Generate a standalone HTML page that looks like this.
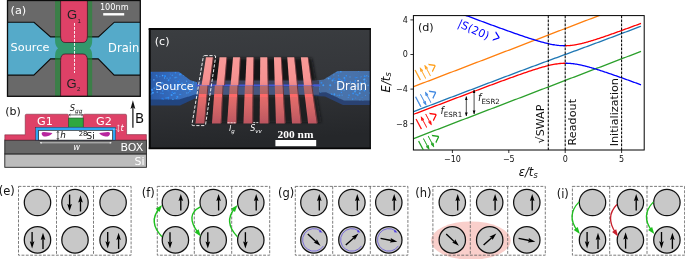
<!DOCTYPE html>
<html><head><meta charset="utf-8"><title>figure</title>
<style>html,body{margin:0;padding:0;background:#fff;overflow:hidden}svg{display:block}text{font-family:"DejaVu Sans","Liberation Sans",sans-serif}.i{font-style:italic}.w{fill:#fff}.sr{font-family:"Liberation Serif","DejaVu Serif",serif;font-weight:bold}.lib{font-family:"Liberation Sans",sans-serif}</style></head><body>
<svg width="685" height="259" viewBox="0 0 685 259">
<defs>
<marker id="ah" viewBox="0 0 10 10" refX="9" refY="5" markerWidth="5.6" markerHeight="5.6" orient="auto-start-reverse"><path d="M0,1.5 L10,5 L0,8.5 z" fill="#000"/></marker>
<filter id="blur3" x="-20%" y="-20%" width="140%" height="140%"><feGaussianBlur stdDeviation="0.35"/></filter>
</defs>
<rect width="685" height="259" fill="#fff"/>
<g id="pa">
<clipPath id="ca"><rect x="7.5" y="0.5" width="132.8" height="95.8"/></clipPath>
<rect x="7.5" y="0.5" width="132.8" height="95.8" fill="#696969"/>
<g clip-path="url(#ca)">
<polygon points="5.5,22.2 34,22.2 50.6,36.9 98.4,36.9 114.3,22.2 142.3,22.2 142.3,75.1 114.2,75.1 98.2,58.8 50.6,58.8 33.8,75.1 5.5,75.1" fill="#55aac9" stroke="#0c0c0c" stroke-width="1.15" stroke-linejoin="miter"/>
<path d="M55.05,-2 L55.05,40.5 Q55.05,46.2 58.15,48.2 Q55.05,50.2 55.05,56 L55.05,100 L92.2,100 L92.2,56 Q92.2,50.2 89.60000000000001,48.2 Q92.2,46.2 92.2,40.5 L92.2,-2 Z" fill="rgb(30,140,52)" fill-opacity="0.62"/>
<path d="M60.6,-2 L60.6,36.0 Q60.6,42.5 65.1,42.5 L82.9,42.5 Q87.4,42.5 87.4,36.0 L87.4,-2 Z" fill="#de4167" stroke="#3a1020" stroke-width="0.7"/>
<path d="M60.6,100 L60.6,60.5 Q60.6,54.0 65.1,54.0 L82.9,54.0 Q87.4,54.0 87.4,60.5 L87.4,100 Z" fill="#de4167" stroke="#3a1020" stroke-width="0.7"/>
<line x1="74.5" y1="23" x2="74.5" y2="73" stroke="#fff" stroke-width="0.9" stroke-dasharray="2.8,1.2"/>
</g>
<rect x="7.5" y="0.5" width="132.8" height="95.8" fill="none" stroke="#0c0c0c" stroke-width="1.3"/>
<text x="10.5" y="13.7" font-size="11.3" class="w">(a)</text>
<text x="10.6" y="50.9" font-size="11.3" class="w">Source</text>
<text x="108.1" y="52" font-size="11.5" class="w">Drain</text>
<text x="67.1" y="19.1" font-size="13" fill="#222" class="lib">G<tspan font-size="6" dy="3.5" dx="0.3">1</tspan></text>
<text x="66.6" y="87.8" font-size="13" fill="#222" class="lib">G<tspan font-size="6" dy="3.5" dx="0.3">2</tspan></text>
<text x="99.9" y="10.1" font-size="8.2" class="w">100nm</text>
<rect x="103.2" y="13.1" width="21" height="2.4" fill="#fff"/>
</g>
<g id="pb">
<text x="5.2" y="114.6" font-size="11" fill="#111">(b)</text>
<rect x="4.8" y="153.9" width="141.6" height="13.4" fill="#bcbcbc" stroke="#222" stroke-width="0.9"/>
<rect x="4.8" y="140.1" width="141.6" height="13.8" fill="#676767" stroke="#222" stroke-width="0.9"/>
<path d="M4.8,140 L4.8,134.8 L25.2,134.8 L25.2,115.6 Q25.2,114.2 26.6,114.2 L67.2,114.2 Q68.6,114.2 68.6,115.6 L68.6,140 Z" fill="#de4167" stroke="#6a2034" stroke-width="0.5"/>
<path d="M146.4,140 L146.4,134.6 L126.6,134.6 L126.6,115.6 Q126.6,114.2 125.2,114.2 L84.5,114.2 Q83.1,114.2 83.1,115.6 L83.1,140 Z" fill="#de4167" stroke="#6a2034" stroke-width="0.5"/>
<rect x="68.7" y="118" width="14.5" height="9.2" fill="#2fa83f" stroke="#1c4a24" stroke-width="0.6"/>
<rect x="35.6" y="127.2" width="80" height="12.9" fill="#2ea6f2" stroke="#223" stroke-width="0.4"/>
<rect x="38.7" y="130.3" width="73.9" height="9.8" fill="#fff" stroke="#111" stroke-width="0.6"/>
<path d="M41.6,133.4 Q41.8,131.9 44,132.0 L52.4,132.9 Q50.8,135.4 46,136.5 Q41.9,136.8 41.6,133.4 Z" fill="#b8269f" filter="url(#blur3)"/>
<path d="M110.0,133.4 Q109.8,131.9 107.6,132.0 L99.2,132.9 Q100.8,135.4 105.6,136.5 Q109.7,136.8 110.0,133.4 Z" fill="#b8269f" filter="url(#blur3)"/>
<line x1="57.9" y1="131.4" x2="57.9" y2="139.4" stroke="#111" stroke-width="0.7"/>
<path d="M56.8,132.8 L57.9,131.2 L59,132.8 M56.8,138 L57.9,139.6 L59,138" fill="none" stroke="#111" stroke-width="0.6"/>
<text x="60.3" y="138.0" font-size="8.8" class="i" fill="#111">h</text>
<text x="78.8" y="135.7" font-size="6.8" fill="#111">28</text>
<text x="86.3" y="138.6" font-size="9.4" fill="#111">Si</text>
<text x="69.8" y="110.8" font-size="8.3" class="i" fill="#111">S<tspan font-size="5.8" dy="1.8">gg</tspan></text>
<line x1="69" y1="114.9" x2="82.8" y2="114.9" stroke="#111" stroke-width="0.6"/>
<path d="M70.6,113.9 L69,114.9 L70.6,115.9 M81.2,113.9 L82.8,114.9 L81.2,115.9" fill="none" stroke="#111" stroke-width="0.5"/>
<text x="37" y="124.8" font-size="11.2" class="w">G1</text>
<text x="96" y="124.8" font-size="11.2" class="w">G2</text>
<line x1="118.4" y1="125" x2="118.4" y2="131.6" stroke="#fff" stroke-width="0.6"/>
<path d="M117.4,126.2 L118.4,124.8 L119.4,126.2 M117.4,130.4 L118.4,131.8 L119.4,130.4" fill="none" stroke="#fff" stroke-width="0.5"/>
<line x1="113" y1="129.4" x2="118" y2="129.4" stroke="#fff" stroke-width="0.5" stroke-dasharray="0.8,0.8"/>
<text x="120.4" y="131.4" font-size="8.5" class="i w">t</text>
<line x1="40" y1="142.8" x2="111.4" y2="142.8" stroke="#fff" stroke-width="0.6"/>
<path d="M41.6,141.9 L39.8,142.8 L41.6,143.7 Z M109.8,141.9 L111.6,142.8 L109.8,143.7 Z" fill="#fff"/>
<text x="73.2" y="150" font-size="8.4" class="i w">w</text>
<text x="120.4" y="151.3" font-size="11" class="w">BOX</text>
<text x="134.6" y="164.6" font-size="11" class="w">Si</text>
<line x1="132.9" y1="127.7" x2="132.9" y2="106" stroke="#111" stroke-width="1.2"/>
<path d="M132.9,100.2 L130.5,108.9 L132.9,107.3 L135.3,108.9 Z" fill="#111"/>
<text x="135.0" y="122.8" font-size="13.3" fill="#111">B</text>
</g>
<g id="pc">
<defs>
<linearGradient id="cbg" x1="0" y1="0" x2="0.15" y2="1"><stop offset="0" stop-color="#3b3e41"/><stop offset="0.45" stop-color="#35373b"/><stop offset="1" stop-color="#25272a"/></linearGradient>
<linearGradient id="bar" gradientUnits="userSpaceOnUse" x1="0" y1="57.2" x2="0" y2="123.6"><stop offset="0.0000" stop-color="#f89a98"/><stop offset="0.3434" stop-color="#f59190"/><stop offset="0.4127" stop-color="#ee8888"/><stop offset="0.4172" stop-color="#b87aa0"/><stop offset="0.4352" stop-color="#b072a0"/><stop offset="0.4413" stop-color="#b86a6a"/><stop offset="0.5572" stop-color="#b46464"/><stop offset="0.5617" stop-color="#ff6767"/><stop offset="0.5934" stop-color="#fb6a6a"/><stop offset="0.6024" stop-color="#e56b6b"/><stop offset="0.7952" stop-color="#d06466"/><stop offset="1.0000" stop-color="#bb5560"/></linearGradient>
<linearGradient id="srcg" x1="0" y1="0" x2="1" y2="0"><stop offset="0" stop-color="#2a58a4"/><stop offset="0.5" stop-color="#356cbe"/><stop offset="1" stop-color="#3f72ba"/></linearGradient>
<linearGradient id="drng" x1="0" y1="0" x2="1" y2="0"><stop offset="0" stop-color="#4a6b9c"/><stop offset="0.5" stop-color="#4973ab"/><stop offset="1" stop-color="#4670a8"/></linearGradient>
<filter id="blur1" x="-20%" y="-20%" width="140%" height="140%"><feGaussianBlur stdDeviation="1.4"/></filter>
<filter id="blur2" x="-20%" y="-20%" width="140%" height="140%"><feGaussianBlur stdDeviation="0.45"/></filter>
<clipPath id="cc"><rect x="149.3" y="28.6" width="221.0" height="120.1"/></clipPath>
<clipPath id="csrc"><path d="M147,71.8 L178.8,71.8 L190.4,80.2 L198,82.6 L198,93.6 L179,99.4 L147,99.4 Z"/></clipPath><clipPath id="cdrn"><path d="M372,70.9 L337.6,70.9 L323.8,79.6 L314,81 L314,92.4 L326,92.3 L344,100.6 L372,100.6 Z"/></clipPath>
</defs>
<rect x="149.3" y="28.6" width="221.0" height="120.1" fill="url(#cbg)"/>
<g clip-path="url(#cc)">
<g filter="url(#blur2)">
<path d="M147,99 L179,99 L198,93 L198,97 L180,105.6 L147,105.6 Z" fill="#22447f"/>
<path d="M372,100 L344,100 L326,92 L314,92 L314,96 L325,96.5 L343,104.9 L372,104.9 Z" fill="#2a4372"/>
<path d="M147,71.8 L178.8,71.8 L190.4,80.2 L198,82.6 L198,93.6 L179,99.4 L147,99.4 Z" fill="url(#srcg)"/>
<path d="M372,70.9 L337.6,70.9 L323.8,79.6 L314,81 L314,92.4 L326,92.3 L344,100.6 L372,100.6 Z" fill="url(#drng)"/>
</g>
<g clip-path="url(#csrc)">
<circle cx="165.2" cy="76.2" r="0.86" fill="#2f94ff" opacity="0.88"/>
<circle cx="154.4" cy="88.3" r="1.00" fill="#4aa6ff" opacity="0.56"/>
<circle cx="170.4" cy="74.0" r="0.55" fill="#3c9cff" opacity="0.57"/>
<circle cx="176.6" cy="98.5" r="0.85" fill="#2f94ff" opacity="0.78"/>
<circle cx="168.6" cy="99.3" r="0.53" fill="#4aa6ff" opacity="0.67"/>
<circle cx="156.8" cy="75.3" r="0.67" fill="#4aa6ff" opacity="0.59"/>
<circle cx="176.8" cy="77.3" r="0.55" fill="#2f94ff" opacity="0.78"/>
<circle cx="179.1" cy="85.9" r="0.79" fill="#1e86ff" opacity="0.74"/>
<circle cx="193.4" cy="82.1" r="0.64" fill="#4aa6ff" opacity="0.83"/>
<circle cx="161.5" cy="88.1" r="0.79" fill="#1e86ff" opacity="0.84"/>
<circle cx="163.5" cy="99.4" r="0.56" fill="#3c9cff" opacity="0.62"/>
<circle cx="166.1" cy="98.1" r="0.73" fill="#2f94ff" opacity="0.86"/>
<circle cx="176.9" cy="96.5" r="0.67" fill="#1e86ff" opacity="0.79"/>
<circle cx="177.3" cy="84.8" r="0.96" fill="#1e86ff" opacity="0.74"/>
<circle cx="181.2" cy="73.7" r="0.89" fill="#3c9cff" opacity="0.66"/>
<circle cx="168.1" cy="90.7" r="0.51" fill="#3c9cff" opacity="0.69"/>
<circle cx="178.7" cy="85.8" r="0.62" fill="#1e86ff" opacity="0.60"/>
<circle cx="161.6" cy="82.9" r="0.98" fill="#2f94ff" opacity="0.62"/>
<circle cx="168.9" cy="79.8" r="0.58" fill="#3c9cff" opacity="0.90"/>
<circle cx="163.1" cy="83.6" r="0.70" fill="#3c9cff" opacity="0.93"/>
<circle cx="157.1" cy="76.9" r="0.63" fill="#4aa6ff" opacity="0.55"/>
<circle cx="189.1" cy="77.1" r="0.66" fill="#4aa6ff" opacity="0.72"/>
<circle cx="167.4" cy="87.9" r="1.02" fill="#2f94ff" opacity="0.73"/>
<circle cx="190.9" cy="98.7" r="0.87" fill="#3c9cff" opacity="0.71"/>
<circle cx="168.5" cy="85.5" r="0.72" fill="#4aa6ff" opacity="0.58"/>
<circle cx="159.8" cy="76.5" r="0.69" fill="#2f94ff" opacity="0.59"/>
<circle cx="176.6" cy="87.0" r="1.02" fill="#2f94ff" opacity="0.58"/>
<circle cx="159.8" cy="82.5" r="0.85" fill="#1e86ff" opacity="0.79"/>
<circle cx="172.3" cy="75.2" r="0.77" fill="#3c9cff" opacity="0.74"/>
<circle cx="164.7" cy="76.0" r="0.91" fill="#1e86ff" opacity="0.74"/>
<circle cx="182.5" cy="86.5" r="0.61" fill="#1e86ff" opacity="0.61"/>
<circle cx="175.5" cy="72.8" r="0.79" fill="#2f94ff" opacity="0.83"/>
<circle cx="162.3" cy="82.3" r="0.59" fill="#4aa6ff" opacity="0.76"/>
<circle cx="186.6" cy="81.2" r="0.62" fill="#4aa6ff" opacity="0.87"/>
<circle cx="188.5" cy="92.7" r="0.62" fill="#3c9cff" opacity="0.69"/>
<circle cx="151.4" cy="72.8" r="0.65" fill="#1e86ff" opacity="0.63"/>
<circle cx="178.4" cy="81.6" r="0.94" fill="#1e86ff" opacity="0.93"/>
<circle cx="167.1" cy="78.2" r="0.62" fill="#4aa6ff" opacity="0.69"/>
<circle cx="172.7" cy="99.6" r="0.84" fill="#2f94ff" opacity="0.74"/>
<circle cx="180.7" cy="94.4" r="0.55" fill="#2f94ff" opacity="0.91"/>
<circle cx="186.8" cy="93.0" r="0.76" fill="#4aa6ff" opacity="0.72"/>
<circle cx="179.9" cy="74.4" r="1.02" fill="#3c9cff" opacity="0.74"/>
<circle cx="184.9" cy="74.4" r="0.59" fill="#4aa6ff" opacity="0.56"/>
<circle cx="177.8" cy="85.0" r="0.86" fill="#3c9cff" opacity="0.81"/>
<circle cx="166.5" cy="87.4" r="0.57" fill="#2f94ff" opacity="0.87"/>
<circle cx="184.1" cy="74.9" r="0.91" fill="#4aa6ff" opacity="0.72"/>
<circle cx="191.0" cy="95.1" r="0.62" fill="#1e86ff" opacity="0.64"/>
<circle cx="173.6" cy="93.4" r="0.68" fill="#3c9cff" opacity="0.88"/>
<circle cx="152.9" cy="92.7" r="0.99" fill="#3c9cff" opacity="0.88"/>
<circle cx="191.3" cy="75.7" r="0.58" fill="#2f94ff" opacity="0.90"/>
<circle cx="186.5" cy="89.0" r="0.93" fill="#4aa6ff" opacity="0.62"/>
<circle cx="172.3" cy="92.3" r="0.81" fill="#1e86ff" opacity="0.82"/>
<circle cx="174.9" cy="85.5" r="0.93" fill="#2f94ff" opacity="0.65"/>
<circle cx="163.0" cy="93.6" r="0.78" fill="#2f94ff" opacity="0.85"/>
<circle cx="192.9" cy="84.4" r="0.84" fill="#4aa6ff" opacity="0.83"/>
<circle cx="171.3" cy="86.9" r="0.76" fill="#4aa6ff" opacity="0.83"/>
<circle cx="191.2" cy="98.4" r="0.64" fill="#4aa6ff" opacity="0.89"/>
<circle cx="156.4" cy="75.4" r="0.74" fill="#2f94ff" opacity="0.82"/>
<circle cx="170.1" cy="78.0" r="0.67" fill="#2f94ff" opacity="0.91"/>
<circle cx="157.3" cy="92.1" r="0.86" fill="#4aa6ff" opacity="0.65"/>
<circle cx="156.5" cy="85.1" r="0.91" fill="#2f94ff" opacity="0.71"/>
<circle cx="172.9" cy="99.7" r="0.96" fill="#4aa6ff" opacity="0.83"/>
<circle cx="196.7" cy="83.3" r="0.73" fill="#1e86ff" opacity="0.68"/>
<circle cx="183.9" cy="72.5" r="0.80" fill="#3c9cff" opacity="0.83"/>
<circle cx="168.1" cy="86.5" r="0.66" fill="#2f94ff" opacity="0.60"/>
<circle cx="193.2" cy="78.4" r="0.98" fill="#2f94ff" opacity="0.66"/>
<circle cx="151.9" cy="93.8" r="0.65" fill="#4aa6ff" opacity="0.88"/>
<circle cx="189.9" cy="90.9" r="1.02" fill="#3c9cff" opacity="0.61"/>
<circle cx="193.2" cy="88.0" r="0.89" fill="#2f94ff" opacity="0.66"/>
<circle cx="187.6" cy="77.1" r="0.99" fill="#1e86ff" opacity="0.93"/>
<circle cx="179.8" cy="94.4" r="0.55" fill="#4aa6ff" opacity="0.58"/>
<circle cx="190.6" cy="84.7" r="0.69" fill="#3c9cff" opacity="0.92"/>
<circle cx="162.6" cy="75.6" r="0.79" fill="#4aa6ff" opacity="0.93"/>
<circle cx="195.6" cy="79.3" r="0.60" fill="#1e86ff" opacity="0.80"/>
<circle cx="175.0" cy="77.8" r="0.75" fill="#4aa6ff" opacity="0.66"/>
<circle cx="187.8" cy="99.8" r="0.52" fill="#2f94ff" opacity="0.84"/>
<circle cx="175.9" cy="77.3" r="0.76" fill="#3c9cff" opacity="0.59"/>
<circle cx="188.5" cy="84.1" r="0.77" fill="#3c9cff" opacity="0.94"/>
<circle cx="164.5" cy="78.0" r="0.63" fill="#4aa6ff" opacity="0.88"/>
<circle cx="183.2" cy="89.8" r="0.72" fill="#1e86ff" opacity="0.94"/>
<circle cx="189.3" cy="72.4" r="0.84" fill="#1e86ff" opacity="0.72"/>
<circle cx="152.6" cy="90.6" r="0.71" fill="#1e86ff" opacity="0.79"/>
<circle cx="182.6" cy="73.3" r="0.60" fill="#1e86ff" opacity="0.73"/>
<circle cx="162.4" cy="98.9" r="1.03" fill="#1e86ff" opacity="0.65"/>
<circle cx="195.4" cy="80.7" r="0.70" fill="#2f94ff" opacity="0.68"/>
<circle cx="153.9" cy="79.8" r="0.86" fill="#4aa6ff" opacity="0.75"/>
<circle cx="150.2" cy="79.4" r="0.55" fill="#3c9cff" opacity="0.78"/>
<circle cx="168.5" cy="80.4" r="0.85" fill="#2f94ff" opacity="0.78"/>
<circle cx="174.9" cy="93.0" r="0.86" fill="#3c9cff" opacity="0.86"/>
<circle cx="183.9" cy="85.8" r="0.66" fill="#4aa6ff" opacity="0.57"/>
<circle cx="189.3" cy="97.0" r="0.85" fill="#4aa6ff" opacity="0.91"/>
<circle cx="185.4" cy="87.9" r="0.95" fill="#2f94ff" opacity="0.88"/>
<circle cx="177.5" cy="97.0" r="0.88" fill="#4aa6ff" opacity="0.58"/>
<circle cx="152.0" cy="89.8" r="1.03" fill="#3c9cff" opacity="0.88"/>
<circle cx="176.3" cy="89.6" r="0.84" fill="#4aa6ff" opacity="0.75"/>
<circle cx="150.2" cy="94.3" r="0.91" fill="#2f94ff" opacity="0.81"/>
<circle cx="153.1" cy="92.6" r="0.64" fill="#2f94ff" opacity="0.89"/>
<circle cx="161.0" cy="93.2" r="0.63" fill="#3c9cff" opacity="0.75"/>
<circle cx="168.0" cy="85.4" r="0.88" fill="#2f94ff" opacity="0.80"/>
<circle cx="180.2" cy="74.2" r="0.58" fill="#1e86ff" opacity="0.81"/>
<circle cx="182.6" cy="89.4" r="0.57" fill="#3c9cff" opacity="0.57"/>
<circle cx="162.6" cy="90.8" r="0.88" fill="#3c9cff" opacity="0.67"/>
<circle cx="174.3" cy="85.0" r="0.76" fill="#2f94ff" opacity="0.95"/>
<circle cx="175.8" cy="80.7" r="0.55" fill="#3c9cff" opacity="0.56"/>
<circle cx="171.6" cy="95.0" r="1.03" fill="#3c9cff" opacity="0.95"/>
<circle cx="168.2" cy="97.7" r="1.01" fill="#2f94ff" opacity="0.78"/>
<circle cx="156.7" cy="86.7" r="1.02" fill="#4aa6ff" opacity="0.79"/>
<circle cx="179.7" cy="79.8" r="0.56" fill="#1e86ff" opacity="0.64"/>
<circle cx="192.2" cy="85.6" r="0.51" fill="#2f94ff" opacity="0.93"/>
<circle cx="182.0" cy="83.4" r="0.90" fill="#3c9cff" opacity="0.69"/>
</g>
<g clip-path="url(#cdrn)">
<circle cx="334.4" cy="96.2" r="0.50" fill="#1e86ff" opacity="0.89"/>
<circle cx="324.2" cy="98.8" r="0.89" fill="#1e86ff" opacity="0.65"/>
<circle cx="321.4" cy="82.7" r="0.98" fill="#2f94ff" opacity="0.69"/>
<circle cx="340.3" cy="79.3" r="0.53" fill="#2f94ff" opacity="0.57"/>
<circle cx="352.4" cy="90.0" r="0.58" fill="#1e86ff" opacity="0.72"/>
<circle cx="334.4" cy="94.2" r="0.93" fill="#3c9cff" opacity="0.90"/>
<circle cx="360.2" cy="89.9" r="1.00" fill="#4aa6ff" opacity="0.84"/>
<circle cx="320.6" cy="93.0" r="0.75" fill="#4aa6ff" opacity="0.81"/>
<circle cx="332.9" cy="72.5" r="1.01" fill="#4aa6ff" opacity="0.62"/>
<circle cx="339.6" cy="79.5" r="0.64" fill="#1e86ff" opacity="0.71"/>
<circle cx="330.4" cy="85.5" r="0.87" fill="#2f94ff" opacity="0.62"/>
<circle cx="326.4" cy="77.2" r="1.00" fill="#3c9cff" opacity="0.77"/>
<circle cx="341.6" cy="81.0" r="0.92" fill="#3c9cff" opacity="0.61"/>
<circle cx="328.0" cy="73.7" r="0.69" fill="#2f94ff" opacity="0.68"/>
<circle cx="337.2" cy="95.3" r="0.61" fill="#2f94ff" opacity="0.85"/>
<circle cx="339.5" cy="83.4" r="0.79" fill="#3c9cff" opacity="0.66"/>
<circle cx="357.1" cy="85.9" r="0.82" fill="#1e86ff" opacity="0.60"/>
<circle cx="344.2" cy="89.9" r="0.97" fill="#4aa6ff" opacity="0.59"/>
<circle cx="364.6" cy="82.5" r="0.86" fill="#3c9cff" opacity="0.93"/>
<circle cx="362.1" cy="97.2" r="0.51" fill="#2f94ff" opacity="0.72"/>
<circle cx="357.7" cy="95.1" r="1.03" fill="#3c9cff" opacity="0.55"/>
<circle cx="338.4" cy="98.8" r="0.95" fill="#3c9cff" opacity="0.94"/>
<circle cx="330.9" cy="74.3" r="0.58" fill="#2f94ff" opacity="0.93"/>
<circle cx="355.5" cy="90.4" r="0.92" fill="#3c9cff" opacity="0.58"/>
<circle cx="358.4" cy="71.0" r="0.57" fill="#2f94ff" opacity="0.81"/>
<circle cx="333.8" cy="74.8" r="0.64" fill="#3c9cff" opacity="0.83"/>
<circle cx="323.8" cy="73.1" r="0.79" fill="#4aa6ff" opacity="0.71"/>
<circle cx="329.6" cy="89.0" r="0.51" fill="#1e86ff" opacity="0.95"/>
<circle cx="332.5" cy="80.5" r="0.96" fill="#4aa6ff" opacity="0.74"/>
<circle cx="330.2" cy="78.4" r="1.03" fill="#1e86ff" opacity="0.57"/>
<circle cx="328.1" cy="97.5" r="0.86" fill="#2f94ff" opacity="0.65"/>
<circle cx="352.7" cy="98.8" r="0.62" fill="#2f94ff" opacity="0.83"/>
<circle cx="355.4" cy="81.9" r="0.72" fill="#2f94ff" opacity="0.87"/>
<circle cx="356.4" cy="86.1" r="0.61" fill="#4aa6ff" opacity="0.67"/>
<circle cx="360.6" cy="77.9" r="0.62" fill="#1e86ff" opacity="0.59"/>
<circle cx="350.4" cy="89.3" r="0.99" fill="#3c9cff" opacity="0.72"/>
<circle cx="352.6" cy="99.5" r="0.58" fill="#3c9cff" opacity="0.57"/>
<circle cx="319.2" cy="88.9" r="0.73" fill="#2f94ff" opacity="0.62"/>
<circle cx="341.4" cy="92.4" r="0.67" fill="#2f94ff" opacity="0.95"/>
<circle cx="366.4" cy="80.9" r="0.60" fill="#3c9cff" opacity="0.56"/>
<circle cx="352.6" cy="82.4" r="0.71" fill="#1e86ff" opacity="0.73"/>
<circle cx="323.7" cy="73.3" r="0.54" fill="#3c9cff" opacity="0.93"/>
<circle cx="324.4" cy="99.9" r="0.61" fill="#1e86ff" opacity="0.86"/>
<circle cx="334.1" cy="95.1" r="0.55" fill="#3c9cff" opacity="0.63"/>
<circle cx="346.2" cy="84.4" r="0.68" fill="#3c9cff" opacity="0.56"/>
<circle cx="339.4" cy="95.4" r="0.92" fill="#2f94ff" opacity="0.70"/>
<circle cx="342.1" cy="95.1" r="0.53" fill="#4aa6ff" opacity="0.85"/>
<circle cx="364.7" cy="81.2" r="0.65" fill="#2f94ff" opacity="0.65"/>
<circle cx="355.3" cy="80.5" r="0.65" fill="#2f94ff" opacity="0.84"/>
<circle cx="349.0" cy="95.2" r="1.02" fill="#2f94ff" opacity="0.56"/>
<circle cx="330.2" cy="85.3" r="1.03" fill="#3c9cff" opacity="0.87"/>
<circle cx="365.5" cy="95.4" r="0.57" fill="#3c9cff" opacity="0.62"/>
<circle cx="359.7" cy="93.2" r="0.95" fill="#4aa6ff" opacity="0.79"/>
<circle cx="335.0" cy="80.6" r="0.70" fill="#2f94ff" opacity="0.75"/>
<circle cx="338.4" cy="75.8" r="0.72" fill="#2f94ff" opacity="0.74"/>
<circle cx="346.3" cy="75.8" r="0.73" fill="#2f94ff" opacity="0.95"/>
<circle cx="331.8" cy="73.5" r="0.55" fill="#3c9cff" opacity="0.95"/>
<circle cx="368.6" cy="76.2" r="0.57" fill="#3c9cff" opacity="0.80"/>
<circle cx="353.1" cy="93.4" r="0.97" fill="#2f94ff" opacity="0.86"/>
<circle cx="333.3" cy="79.4" r="0.65" fill="#1e86ff" opacity="0.85"/>
<circle cx="328.4" cy="78.4" r="0.63" fill="#4aa6ff" opacity="0.66"/>
<circle cx="365.2" cy="76.6" r="0.54" fill="#1e86ff" opacity="0.95"/>
<circle cx="344.4" cy="77.9" r="0.94" fill="#3c9cff" opacity="0.95"/>
<circle cx="323.3" cy="85.2" r="0.95" fill="#3c9cff" opacity="0.92"/>
<circle cx="320.1" cy="79.8" r="0.57" fill="#4aa6ff" opacity="0.79"/>
<circle cx="361.1" cy="76.8" r="0.54" fill="#4aa6ff" opacity="0.73"/>
<circle cx="331.5" cy="94.3" r="1.02" fill="#2f94ff" opacity="0.80"/>
<circle cx="354.9" cy="81.5" r="0.52" fill="#1e86ff" opacity="0.61"/>
<circle cx="328.6" cy="78.6" r="0.83" fill="#4aa6ff" opacity="0.88"/>
<circle cx="360.6" cy="83.3" r="0.70" fill="#1e86ff" opacity="0.58"/>
<circle cx="319.6" cy="85.9" r="0.77" fill="#3c9cff" opacity="0.59"/>
<circle cx="338.6" cy="87.5" r="0.85" fill="#2f94ff" opacity="0.81"/>
<circle cx="338.7" cy="79.1" r="1.04" fill="#1e86ff" opacity="0.72"/>
<circle cx="320.7" cy="93.4" r="0.99" fill="#3c9cff" opacity="0.72"/>
<circle cx="362.9" cy="100.9" r="0.70" fill="#4aa6ff" opacity="0.71"/>
<circle cx="339.1" cy="99.3" r="0.74" fill="#4aa6ff" opacity="0.72"/>
<circle cx="360.7" cy="83.2" r="0.99" fill="#3c9cff" opacity="0.86"/>
<circle cx="324.8" cy="72.6" r="0.58" fill="#3c9cff" opacity="0.59"/>
<circle cx="350.4" cy="82.1" r="0.78" fill="#4aa6ff" opacity="0.69"/>
<circle cx="326.4" cy="76.2" r="0.54" fill="#3c9cff" opacity="0.75"/>
<circle cx="359.9" cy="100.0" r="0.61" fill="#4aa6ff" opacity="0.88"/>
<circle cx="320.3" cy="98.4" r="0.67" fill="#3c9cff" opacity="0.58"/>
<circle cx="355.0" cy="91.6" r="0.99" fill="#4aa6ff" opacity="0.80"/>
<circle cx="350.0" cy="76.9" r="0.76" fill="#4aa6ff" opacity="0.57"/>
<circle cx="366.8" cy="75.7" r="0.70" fill="#4aa6ff" opacity="0.65"/>
<circle cx="355.7" cy="97.9" r="0.52" fill="#2f94ff" opacity="0.82"/>
<circle cx="334.9" cy="82.7" r="0.75" fill="#1e86ff" opacity="0.81"/>
<circle cx="334.0" cy="78.5" r="0.71" fill="#1e86ff" opacity="0.73"/>
<circle cx="340.8" cy="71.7" r="0.84" fill="#3c9cff" opacity="0.74"/>
<circle cx="341.2" cy="89.6" r="0.95" fill="#4aa6ff" opacity="0.87"/>
<circle cx="338.8" cy="73.0" r="0.70" fill="#1e86ff" opacity="0.59"/>
<circle cx="341.0" cy="86.3" r="0.52" fill="#4aa6ff" opacity="0.58"/>
<circle cx="356.1" cy="94.3" r="0.78" fill="#2f94ff" opacity="0.85"/>
<circle cx="364.5" cy="90.6" r="0.93" fill="#2f94ff" opacity="0.89"/>
<circle cx="369.8" cy="93.0" r="0.95" fill="#4aa6ff" opacity="0.60"/>
<circle cx="364.1" cy="79.6" r="0.95" fill="#4aa6ff" opacity="0.82"/>
<circle cx="355.5" cy="77.6" r="0.96" fill="#1e86ff" opacity="0.61"/>
<circle cx="364.6" cy="79.2" r="0.95" fill="#4aa6ff" opacity="0.65"/>
<circle cx="368.1" cy="85.4" r="0.83" fill="#4aa6ff" opacity="0.68"/>
<circle cx="319.9" cy="76.5" r="0.59" fill="#1e86ff" opacity="0.82"/>
<circle cx="364.6" cy="76.1" r="0.93" fill="#2f94ff" opacity="0.86"/>
<circle cx="320.5" cy="96.7" r="1.03" fill="#3c9cff" opacity="0.77"/>
<circle cx="348.2" cy="97.5" r="0.56" fill="#3c9cff" opacity="0.85"/>
<circle cx="337.3" cy="82.3" r="0.70" fill="#4aa6ff" opacity="0.69"/>
<circle cx="357.8" cy="84.3" r="0.60" fill="#2f94ff" opacity="0.67"/>
<circle cx="344.8" cy="80.3" r="1.03" fill="#1e86ff" opacity="0.84"/>
<circle cx="356.9" cy="77.6" r="0.66" fill="#3c9cff" opacity="0.72"/>
<circle cx="336.9" cy="72.4" r="0.77" fill="#2f94ff" opacity="0.56"/>
<circle cx="318.1" cy="81.6" r="0.56" fill="#1e86ff" opacity="0.76"/>
<circle cx="339.5" cy="80.0" r="0.57" fill="#1e86ff" opacity="0.80"/>
</g>
<g filter="url(#blur1)">
<polygon points="206.8,58.2 311.9,58.2 316.0,81.0 203.2,81.0" fill="#111113" opacity="0.82"/>
<polygon points="200.8,96 317.1,96 321.7,122.6 196.6,122.6" fill="#111113" opacity="0.55"/>
</g>
<g filter="url(#blur2)">
<rect x="197" y="86.4" width="122" height="8.4" fill="#46567e"/>
<rect x="197" y="80.6" width="122" height="4" fill="#3c435c"/>
<rect x="196" y="84.4" width="124" height="1.9" fill="#4458d8"/>
</g>
<g filter="url(#blur2)">
<polygon points="212.85,57.2 213.75,57.800000000000004 210.18132530120482,85.2 209.18132530120482,85.2" fill="#6e3439"/>
<polygon points="207.43132530120482,85.2 208.43132530120482,85.2 205.25,123.1 204.15,123.6" fill="#6e3439"/>
<polygon points="205.95000000000002,57.2 212.85,57.2 209.18,85.2 201.52,85.2" fill="url(#bar)"/>
<polygon points="199.77,85.2 207.43,85.2 204.15,123.6 195.45000000000002,123.6" fill="url(#bar)"/>
<polygon points="226.45,57.2 227.35,57.800000000000004 225.00421686746986,85.2 224.00421686746986,85.2" fill="#6e3439"/>
<polygon points="222.50421686746986,85.2 223.50421686746986,85.2 221.75,123.1 220.65,123.6" fill="#6e3439"/>
<polygon points="219.55,57.2 226.45,57.2 224.00,85.2 216.35,85.2" fill="url(#bar)"/>
<polygon points="214.85,85.2 222.50,85.2 220.65,123.6 211.95000000000002,123.6" fill="url(#bar)"/>
<polygon points="239.95,57.2 240.85,57.800000000000004 239.2210843373494,85.2 238.2210843373494,85.2" fill="#6e3439"/>
<polygon points="237.42108433734938,85.2 238.42108433734938,85.2 236.95,123.1 235.85,123.6" fill="#6e3439"/>
<polygon points="233.05,57.2 239.95,57.2 238.22,85.2 230.56,85.2" fill="url(#bar)"/>
<polygon points="229.76,85.2 237.42,85.2 235.85,123.6 227.15,123.6" fill="url(#bar)"/>
<polygon points="253.45,57.2 254.35,57.800000000000004 253.90180722891566,85.2 252.90180722891566,85.2" fill="#6e3439"/>
<polygon points="252.60180722891565,85.2 253.60180722891565,85.2 253.25,123.1 252.15,123.6" fill="#6e3439"/>
<polygon points="246.55,57.2 253.45,57.2 252.90,85.2 245.24,85.2" fill="url(#bar)"/>
<polygon points="244.94,85.2 252.60,85.2 252.15,123.6 243.45000000000002,123.6" fill="url(#bar)"/>
<polygon points="267.15,57.2 268.04999999999995,57.800000000000004 268.6560240963855,85.2 267.6560240963855,85.2" fill="#6e3439"/>
<polygon points="267.6560240963855,85.2 268.6560240963855,85.2 269.45000000000005,123.1 268.35,123.6" fill="#6e3439"/>
<polygon points="260.25,57.2 267.15,57.2 267.66,85.2 260.00,85.2" fill="url(#bar)"/>
<polygon points="260.00,85.2 267.66,85.2 268.35,123.6 259.65,123.6" fill="url(#bar)"/>
<polygon points="280.84999999999997,57.2 281.74999999999994,57.800000000000004 283.4524096385542,85.2 282.4524096385542,85.2" fill="#6e3439"/>
<polygon points="282.4524096385542,85.2 283.4524096385542,85.2 285.75000000000006,123.1 284.65000000000003,123.6" fill="#6e3439"/>
<polygon points="273.95,57.2 280.84999999999997,57.2 282.45,85.2 274.79,85.2" fill="url(#bar)"/>
<polygon points="274.79,85.2 282.45,85.2 284.65000000000003,123.6 275.95,123.6" fill="url(#bar)"/>
<polygon points="294.15,57.2 295.04999999999995,57.800000000000004 297.9331325301205,85.2 296.9331325301205,85.2" fill="#6e3439"/>
<polygon points="296.7331325301205,85.2 297.7331325301205,85.2 301.85,123.1 300.75,123.6" fill="#6e3439"/>
<polygon points="287.25,57.2 294.15,57.2 296.93,85.2 289.27,85.2" fill="url(#bar)"/>
<polygon points="289.07,85.2 296.73,85.2 300.75,123.6 292.04999999999995,123.6" fill="url(#bar)"/>
<polygon points="307.75,57.2 308.65,57.800000000000004 312.58734939759034,85.2 311.58734939759034,85.2" fill="#6e3439"/>
<polygon points="311.18734939759037,85.2 312.18734939759037,85.2 317.95000000000005,123.1 316.85,123.6" fill="#6e3439"/>
<polygon points="300.85,57.2 307.75,57.2 311.59,85.2 303.93,85.2" fill="url(#bar)"/>
<polygon points="303.53,85.2 311.19,85.2 316.85,123.6 308.15,123.6" fill="url(#bar)"/>
</g>
<path d="M204.6,55.6 L214.6,55.6 Q215.9,55.6 215.6,57 L205.6,124.4 Q205.4,125.6 204.2,125.6 L193.2,125.6 Q191.8,125.6 192,124.3 L203.3,56.8 Q203.5,55.6 204.6,55.6 Z" fill="none" stroke="#fff" stroke-width="0.9" stroke-dasharray="3.2,1.6"/>
</g>
<path d="M148.70000000000002,28.950000000000003 L370.90000000000003,28.950000000000003" stroke="#050505" stroke-width="1.9"/>
<path d="M149.70000000000002,28.6 L149.70000000000002,148.7" stroke="#050505" stroke-width="2.0"/>
<path d="M370.3,28.6 L370.3,148.7" stroke="#050505" stroke-width="1.2"/>
<path d="M148.70000000000002,148.45 L370.90000000000003,148.45" stroke="#050505" stroke-width="1.7"/>
<text x="154.8" y="45.3" font-size="11" class="w">(c)</text>
<text x="155.2" y="89.6" font-size="11.2" class="w">Source</text>
<text x="336.2" y="89.6" font-size="11.4" class="w">Drain</text>
<text x="229.0" y="130.9" font-size="7.8" class="i w">l<tspan font-size="5.4" dy="1.6">g</tspan></text>
<text x="250.2" y="130.9" font-size="8" class="i w">S<tspan font-size="5.6" dy="2">vv</tspan></text>
<line x1="227.5" y1="122.8" x2="235.6" y2="122.8" stroke="#fff" stroke-width="0.8" stroke-dasharray="2.2,0.8"/>
<line x1="253.3" y1="122.6" x2="259.2" y2="122.6" stroke="#fff" stroke-width="0.8" stroke-dasharray="2,1"/>
<rect x="275.4" y="140" width="40.8" height="6.2" fill="#fff"/>
<text x="295.5" y="137.9" font-size="11.4" class="sr w" text-anchor="middle">200 nm</text>
</g>
<g id="pd">
<clipPath id="cd"><rect x="413.4" y="15.6" width="230.80000000000007" height="134.4"/></clipPath>
<g clip-path="url(#cd)" fill="none" stroke-width="1.3" stroke-linecap="butt">
<polyline points="411.79,139.27 413.70,138.54 415.61,137.81 417.52,137.07 419.43,136.34 421.34,135.61 423.25,134.88 425.16,134.14 427.07,133.41 428.98,132.68 430.89,131.95 432.80,131.21 434.71,130.48 436.62,129.75 438.53,129.02 440.44,128.28 442.35,127.55 444.26,126.82 446.17,126.09 448.08,125.36 449.99,124.62 451.90,123.89 453.81,123.16 455.72,122.43 457.63,121.69 459.54,120.96 461.45,120.23 463.36,119.50 465.27,118.76 467.18,118.03 469.09,117.30 471.00,116.57 472.91,115.83 474.82,115.10 476.73,114.37 478.64,113.64 480.55,112.90 482.46,112.17 484.38,111.44 486.29,110.71 488.20,109.98 490.11,109.24 492.02,108.51 493.93,107.78 495.84,107.05 497.75,106.31 499.66,105.58 501.57,104.85 503.48,104.12 505.39,103.38 507.30,102.65 509.21,101.92 511.12,101.19 513.03,100.45 514.94,99.72 516.85,98.99 518.76,98.26 520.67,97.53 522.58,96.79 524.49,96.06 526.40,95.33 528.31,94.60 530.22,93.86 532.13,93.13 534.04,92.40 535.95,91.67 537.86,90.93 539.77,90.20 541.68,89.47 543.59,88.74 545.50,88.00 547.41,87.27 549.32,86.54 551.23,85.81 553.14,85.07 555.05,84.34 556.96,83.61 558.87,82.88 560.78,82.15 562.69,81.41 564.60,80.68 566.51,79.95 568.42,79.22 570.33,78.48 572.24,77.75 574.15,77.02 576.06,76.29 577.97,75.55 579.88,74.82 581.79,74.09 583.70,73.36 585.61,72.62 587.52,71.89 589.43,71.16 591.34,70.43 593.25,69.70 595.16,68.96 597.07,68.23 598.98,67.50 600.89,66.77 602.80,66.03 604.71,65.30 606.62,64.57 608.53,63.84 610.44,63.10 612.35,62.37 614.26,61.64 616.17,60.91 618.08,60.17 619.99,59.44 621.90,58.71 623.81,57.98 625.72,57.24 627.63,56.51 629.54,55.78 631.45,55.05 633.36,54.32 635.27,53.58 637.18,52.85 639.09,52.12 641.00,51.39" stroke="#2ca02c"/>
<polyline points="411.79,87.37 413.70,86.64 415.61,85.91 417.52,85.17 419.43,84.44 421.34,83.71 423.25,82.98 425.16,82.24 427.07,81.51 428.98,80.78 430.89,80.05 432.80,79.31 434.71,78.58 436.62,77.85 438.53,77.12 440.44,76.38 442.35,75.65 444.26,74.92 446.17,74.19 448.08,73.46 449.99,72.72 451.90,71.99 453.81,71.26 455.72,70.53 457.63,69.79 459.54,69.06 461.45,68.33 463.36,67.60 465.27,66.86 467.18,66.13 469.09,65.40 471.00,64.67 472.91,63.93 474.82,63.20 476.73,62.47 478.64,61.74 480.55,61.00 482.46,60.27 484.38,59.54 486.29,58.81 488.20,58.08 490.11,57.34 492.02,56.61 493.93,55.88 495.84,55.15 497.75,54.41 499.66,53.68 501.57,52.95 503.48,52.22 505.39,51.48 507.30,50.75 509.21,50.02 511.12,49.29 513.03,48.55 514.94,47.82 516.85,47.09 518.76,46.36 520.67,45.63 522.58,44.89 524.49,44.16 526.40,43.43 528.31,42.70 530.22,41.96 532.13,41.23 534.04,40.50 535.95,39.77 537.86,39.03 539.77,38.30 541.68,37.57 543.59,36.84 545.50,36.10 547.41,35.37 549.32,34.64 551.23,33.91 553.14,33.17 555.05,32.44 556.96,31.71 558.87,30.98 560.78,30.25 562.69,29.51 564.60,28.78 566.51,28.05 568.42,27.32 570.33,26.58 572.24,25.85 574.15,25.12 576.06,24.39 577.97,23.65 579.88,22.92 581.79,22.19 583.70,21.46 585.61,20.72 587.52,19.99 589.43,19.26 591.34,18.53 593.25,17.80 595.16,17.06 597.07,16.33 598.98,15.60 600.89,14.87 602.80,14.13 604.71,13.40 606.62,12.67 608.53,11.94 610.44,11.20 612.35,10.47 614.26,9.74 616.17,9.01 618.08,8.27 619.99,7.54 621.90,6.81 623.81,6.08 625.72,5.34 627.63,4.61 629.54,3.88 631.45,3.15 633.36,2.42 635.27,1.68 637.18,0.95 639.09,0.22 641.00,-0.51" stroke="#ff7f0e"/>
<polyline points="411.79,112.30 413.70,111.57 415.61,110.85 417.52,110.12 419.43,109.39 421.34,108.66 423.25,107.93 425.16,107.20 427.07,106.47 428.98,105.74 430.89,105.01 432.80,104.29 434.71,103.56 436.62,102.83 438.53,102.10 440.44,101.37 442.35,100.65 444.26,99.92 446.17,99.19 448.08,98.46 449.99,97.73 451.90,97.01 453.81,96.28 455.72,95.55 457.63,94.83 459.54,94.10 461.45,93.37 463.36,92.65 465.27,91.92 467.18,91.19 469.09,90.47 471.00,89.74 472.91,89.02 474.82,88.29 476.73,87.57 478.64,86.84 480.55,86.12 482.46,85.39 484.38,84.67 486.29,83.94 488.20,83.22 490.11,82.50 492.02,81.77 493.93,81.05 495.84,80.33 497.75,79.61 499.66,78.89 501.57,78.16 503.48,77.44 505.39,76.72 507.30,76.00 509.21,75.28 511.12,74.57 513.03,73.85 514.94,73.13 516.85,72.41 518.76,71.70 520.67,70.98 522.58,70.26 524.49,69.55 526.40,68.84 528.31,68.12 530.22,67.41 532.13,66.70 534.04,65.99 535.95,65.28 537.86,64.57 539.77,63.86 541.68,63.15 543.59,62.45 545.50,61.74 547.41,61.04 549.32,60.33 551.23,59.63 553.14,58.93 555.05,58.22 556.96,57.52 558.87,56.82 560.78,56.12 562.69,55.42 564.60,54.72 566.51,54.02 568.42,53.32 570.33,52.62 572.24,51.92 574.15,51.22 576.06,50.52 577.97,49.81 579.88,49.11 581.79,48.41 583.70,47.70 585.61,47.00 587.52,46.29 589.43,45.59 591.34,44.88 593.25,44.17 595.16,43.46 597.07,42.75 598.98,42.04 600.89,41.33 602.80,40.61 604.71,39.90 606.62,39.19 608.53,38.47 610.44,37.76 612.35,37.04 614.26,36.32 616.17,35.61 618.08,34.89 619.99,34.17 621.90,33.45 623.81,32.73 625.72,32.01 627.63,31.29 629.54,30.57 631.45,29.85 633.36,29.13 635.27,28.40 637.18,27.68 639.09,26.96 641.00,26.24" stroke="#1f77b4"/>
<polyline points="411.79,-4.95 413.07,-4.47 414.35,-3.98 415.63,-3.50 416.91,-3.01 418.18,-2.53 419.46,-2.04 420.74,-1.56 422.02,-1.08 423.30,-0.59 424.58,-0.11 425.85,0.38 427.13,0.86 428.41,1.34 429.69,1.83 430.97,2.31 432.25,2.79 433.52,3.28 434.80,3.76 436.08,4.24 437.36,4.73 438.64,5.21 439.92,5.69 441.20,6.17 442.47,6.66 443.75,7.14 445.03,7.62 446.31,8.10 447.59,8.58 448.87,9.06 450.14,9.54 451.42,10.03 452.70,10.51 453.98,10.99 455.26,11.47 456.54,11.95 457.81,12.43 459.09,12.91 460.37,13.39 461.65,13.86 462.93,14.34 464.21,14.82 465.48,15.30 466.76,15.78 468.04,16.26 469.32,16.73 470.60,17.21 471.88,17.69 473.16,18.16 474.43,18.64 475.71,19.11 476.99,19.59 478.27,20.06 479.55,20.54 480.83,21.01 482.10,21.49 483.38,21.96 484.66,22.43 485.94,22.90 487.22,23.37 488.50,23.84 489.77,24.31 491.05,24.78 492.33,25.25 493.61,25.72 494.89,26.19 496.17,26.65 497.44,27.12 498.72,27.58 500.00,28.05 501.28,28.51 502.56,28.97 503.84,29.43 505.12,29.89 506.39,30.35 507.67,30.81 508.95,31.26 510.23,31.72 511.51,32.17 512.79,32.62 514.06,33.07 515.34,33.52 516.62,33.96 517.90,34.40 519.18,34.85 520.46,35.28 521.73,35.72 523.01,36.15 524.29,36.58 525.57,37.01 526.85,37.44 528.13,37.86 529.40,38.27 530.68,38.68 531.96,39.09 533.24,39.49 534.52,39.89 535.80,40.28 537.08,40.67 538.35,41.05 539.63,41.42 540.91,41.78 542.19,42.13 543.47,42.48 544.75,42.81 546.02,43.13 547.30,43.44 548.58,43.74 549.86,44.02 551.14,44.28 552.42,44.53 553.69,44.76 554.97,44.97 556.25,45.15 557.53,45.32 558.81,45.46 560.09,45.57 561.36,45.66 562.64,45.72 563.92,45.75 565.20,45.75" stroke="#0000ff"/>
<polyline points="565.20,63.25 565.83,63.24 566.46,63.25 567.10,63.26 567.73,63.28 568.36,63.31 568.99,63.34 569.62,63.38 570.25,63.43 570.89,63.48 571.52,63.54 572.15,63.60 572.78,63.67 573.41,63.75 574.04,63.83 574.68,63.92 575.31,64.02 575.94,64.12 576.57,64.22 577.20,64.33 577.83,64.44 578.47,64.56 579.10,64.69 579.73,64.81 580.36,64.94 580.99,65.08 581.62,65.22 582.26,65.36 582.89,65.51 583.52,65.66 584.15,65.81 584.78,65.97 585.41,66.13 586.05,66.29 586.68,66.46 587.31,66.62 587.94,66.79 588.57,66.97 589.20,67.14 589.84,67.32 590.47,67.50 591.10,67.68 591.73,67.86 592.36,68.05 592.99,68.23 593.63,68.42 594.26,68.61 594.89,68.80 595.52,69.00 596.15,69.19 596.78,69.39 597.42,69.59 598.05,69.78 598.68,69.98 599.31,70.19 599.94,70.39 600.57,70.59 601.21,70.80 601.84,71.00 602.47,71.21 603.10,71.42 603.73,71.62 604.36,71.83 605.00,72.04 605.63,72.25 606.26,72.47 606.89,72.68 607.52,72.89 608.15,73.11 608.79,73.32 609.42,73.54 610.05,73.75 610.68,73.97 611.31,74.19 611.94,74.40 612.58,74.62 613.21,74.84 613.84,75.06 614.47,75.28 615.10,75.50 615.73,75.72 616.37,75.94 617.00,76.16 617.63,76.39 618.26,76.61 618.89,76.83 619.52,77.06 620.16,77.28 620.79,77.50 621.42,77.73 622.05,77.95 622.68,78.18 623.31,78.40 623.95,78.63 624.58,78.86 625.21,79.08 625.84,79.31 626.47,79.54 627.10,79.76 627.74,79.99 628.37,80.22 629.00,80.45 629.63,80.68 630.26,80.90 630.89,81.13 631.53,81.36 632.16,81.59 632.79,81.82 633.42,82.05 634.05,82.28 634.68,82.51 635.32,82.74 635.95,82.97 636.58,83.20 637.21,83.43 637.84,83.67 638.47,83.90 639.11,84.13 639.74,84.36 640.37,84.59 641.00,84.82" stroke="#0000ff"/>
<polyline points="565.20,45.75 565.83,45.74 566.46,45.73 567.10,45.71 567.73,45.68 568.36,45.64 568.99,45.60 569.62,45.55 570.25,45.49 570.89,45.43 571.52,45.36 572.15,45.28 572.78,45.20 573.41,45.11 574.04,45.02 574.68,44.92 575.31,44.82 575.94,44.71 576.57,44.59 577.20,44.47 577.83,44.35 578.47,44.22 579.10,44.09 579.73,43.95 580.36,43.81 580.99,43.66 581.62,43.51 582.26,43.36 582.89,43.21 583.52,43.05 584.15,42.88 584.78,42.72 585.41,42.55 586.05,42.38 586.68,42.21 587.31,42.03 587.94,41.85 588.57,41.67 589.20,41.49 589.84,41.30 590.47,41.11 591.10,40.92 591.73,40.73 592.36,40.54 592.99,40.35 593.63,40.15 594.26,39.95 594.89,39.75 595.52,39.55 596.15,39.35 596.78,39.15 597.42,38.94 598.05,38.74 598.68,38.53 599.31,38.32 599.94,38.11 600.57,37.90 601.21,37.69 601.84,37.48 602.47,37.27 603.10,37.05 603.73,36.84 604.36,36.62 605.00,36.40 605.63,36.19 606.26,35.97 606.89,35.75 607.52,35.53 608.15,35.31 608.79,35.09 609.42,34.87 610.05,34.65 610.68,34.43 611.31,34.21 611.94,33.98 612.58,33.76 613.21,33.53 613.84,33.31 614.47,33.08 615.10,32.86 615.73,32.63 616.37,32.41 617.00,32.18 617.63,31.95 618.26,31.73 618.89,31.50 619.52,31.27 620.16,31.04 620.79,30.81 621.42,30.59 622.05,30.36 622.68,30.13 623.31,29.90 623.95,29.67 624.58,29.44 625.21,29.21 625.84,28.97 626.47,28.74 627.10,28.51 627.74,28.28 628.37,28.05 629.00,27.82 629.63,27.58 630.26,27.35 630.89,27.12 631.53,26.89 632.16,26.65 632.79,26.42 633.42,26.19 634.05,25.95 634.68,25.72 635.32,25.49 635.95,25.25 636.58,25.02 637.21,24.78 637.84,24.55 638.47,24.32 639.11,24.08 639.74,23.85 640.37,23.61 641.00,23.38" stroke="#ff0000"/>
<polyline points="411.79,114.97 413.07,114.48 414.35,113.99 415.63,113.51 416.91,113.02 418.18,112.53 419.46,112.05 420.74,111.56 422.02,111.07 423.30,110.59 424.58,110.10 425.85,109.62 427.13,109.13 428.41,108.64 429.69,108.16 430.97,107.67 432.25,107.18 433.52,106.70 434.80,106.21 436.08,105.73 437.36,105.24 438.64,104.76 439.92,104.27 441.20,103.79 442.47,103.30 443.75,102.82 445.03,102.33 446.31,101.85 447.59,101.36 448.87,100.88 450.14,100.39 451.42,99.91 452.70,99.42 453.98,98.94 455.26,98.46 456.54,97.97 457.81,97.49 459.09,97.01 460.37,96.52 461.65,96.04 462.93,95.56 464.21,95.08 465.48,94.59 466.76,94.11 468.04,93.63 469.32,93.15 470.60,92.67 471.88,92.19 473.16,91.70 474.43,91.22 475.71,90.74 476.99,90.26 478.27,89.78 479.55,89.30 480.83,88.83 482.10,88.35 483.38,87.87 484.66,87.39 485.94,86.91 487.22,86.44 488.50,85.96 489.77,85.48 491.05,85.01 492.33,84.53 493.61,84.06 494.89,83.59 496.17,83.11 497.44,82.64 498.72,82.17 500.00,81.70 501.28,81.23 502.56,80.76 503.84,80.29 505.12,79.82 506.39,79.36 507.67,78.89 508.95,78.43 510.23,77.96 511.51,77.50 512.79,77.04 514.06,76.58 515.34,76.12 516.62,75.67 517.90,75.21 519.18,74.76 520.46,74.31 521.73,73.87 523.01,73.42 524.29,72.98 525.57,72.54 526.85,72.10 528.13,71.67 529.40,71.24 530.68,70.81 531.96,70.39 533.24,69.98 534.52,69.56 535.80,69.16 537.08,68.76 538.35,68.36 539.63,67.98 540.91,67.60 542.19,67.23 543.47,66.87 544.75,66.51 546.02,66.17 547.30,65.85 548.58,65.53 549.86,65.23 551.14,64.95 552.42,64.68 553.69,64.43 554.97,64.20 556.25,64.00 557.53,63.81 558.81,63.65 560.09,63.52 561.36,63.41 562.64,63.33 563.92,63.27 565.20,63.25" stroke="#ff0000"/>
<line x1="548.28" y1="15.6" x2="548.28" y2="150.0" stroke="#000" stroke-width="1.05" stroke-dasharray="2.6,1.4"/>
<line x1="565.20" y1="15.6" x2="565.20" y2="150.0" stroke="#000" stroke-width="1.05" stroke-dasharray="2.6,1.4"/>
<line x1="621.60" y1="15.6" x2="621.60" y2="150.0" stroke="#000" stroke-width="1.05" stroke-dasharray="2.6,1.4"/>
</g>
<rect x="413.4" y="15.6" width="230.80000000000007" height="134.4" fill="none" stroke="#000" stroke-width="1"/>
<line x1="410.4" y1="19.90" x2="413.4" y2="19.90" stroke="#000" stroke-width="0.8"/>
<text x="407.79999999999995" y="22.85" font-size="8" text-anchor="end" fill="#111">4</text>
<line x1="410.4" y1="54.50" x2="413.4" y2="54.50" stroke="#000" stroke-width="0.8"/>
<text x="407.79999999999995" y="57.45" font-size="8" text-anchor="end" fill="#111">0</text>
<line x1="410.4" y1="89.10" x2="413.4" y2="89.10" stroke="#000" stroke-width="0.8"/>
<text x="407.79999999999995" y="92.05" font-size="8" text-anchor="end" fill="#111">−4</text>
<line x1="410.4" y1="123.70" x2="413.4" y2="123.70" stroke="#000" stroke-width="0.8"/>
<text x="407.79999999999995" y="126.65" font-size="8" text-anchor="end" fill="#111">−8</text>
<line x1="452.40" y1="150.0" x2="452.40" y2="153.0" stroke="#000" stroke-width="0.8"/>
<text x="452.40" y="162.1" font-size="8" text-anchor="middle" fill="#111">−10</text>
<line x1="508.80" y1="150.0" x2="508.80" y2="153.0" stroke="#000" stroke-width="0.8"/>
<text x="508.80" y="162.1" font-size="8" text-anchor="middle" fill="#111">−5</text>
<line x1="565.20" y1="150.0" x2="565.20" y2="153.0" stroke="#000" stroke-width="0.8"/>
<text x="565.20" y="162.1" font-size="8" text-anchor="middle" fill="#111">0</text>
<line x1="621.60" y1="150.0" x2="621.60" y2="153.0" stroke="#000" stroke-width="0.8"/>
<text x="621.60" y="162.1" font-size="8" text-anchor="middle" fill="#111">5</text>
<text x="518.7" y="175.9" font-size="11.6" class="i" fill="#111">ε/t<tspan font-size="8.2" dy="1.8">s</tspan></text>
<text transform="translate(389.5,92.4) rotate(-90)" font-size="11.6" class="i" fill="#111">E/t<tspan font-size="8.2" dy="1.8">s</tspan></text>
<text x="417.9" y="30.8" font-size="11.2" fill="#111">(d)</text>
<text transform="translate(543.8,143.4) rotate(-90)" font-size="11.1" fill="#111">√SWAP</text>
<text transform="translate(575.7,145.4) rotate(-90)" font-size="11.2" fill="#111">Readout</text>
<text transform="translate(618.2,146.3) rotate(-90)" font-size="11.2" fill="#111">Initialization</text>
<text transform="translate(456.9,26.3) rotate(24.3)" font-size="11" fill="#0000ff">|S(20)</text><text transform="translate(499.5,38.0) rotate(20) translate(-6.7,5.8) scale(0.895,1.9)" font-size="10" fill="#0000ff">&gt;</text>
<g transform="translate(415.3,70.1) rotate(-28)" fill="#ff9f1a"><text x="-1.85" y="8.4" font-size="11" stroke="#ff9f1a" stroke-width="0.25">|</text><text transform="translate(2.96,11.9) scale(0.7,2.0)" font-size="8" stroke="#ff9f1a" stroke-width="0.4">↑</text><text transform="translate(8.46,11.9) scale(0.7,2.0)" font-size="8" stroke="#ff9f1a" stroke-width="0.4">↑</text><text transform="translate(13.45,10.9) scale(0.895,1.82)" font-size="10">&gt;</text></g>
<g transform="translate(415.8,97.0) rotate(-28)" fill="#3d86e0"><text x="-1.85" y="8.4" font-size="11" stroke="#3d86e0" stroke-width="0.25">|</text><text transform="translate(2.96,11.9) scale(0.7,2.0)" font-size="8" stroke="#3d86e0" stroke-width="0.4">↓</text><text transform="translate(8.46,11.9) scale(0.7,2.0)" font-size="8" stroke="#3d86e0" stroke-width="0.4">↑</text><text transform="translate(13.45,10.9) scale(0.895,1.82)" font-size="10">&gt;</text></g>
<g transform="translate(416.3,119.2) rotate(-28)" fill="#ff0000"><text x="-1.85" y="8.4" font-size="11" stroke="#ff0000" stroke-width="0.25">|</text><text transform="translate(2.96,11.9) scale(0.7,2.0)" font-size="8" stroke="#ff0000" stroke-width="0.4">↑</text><text transform="translate(8.46,11.9) scale(0.7,2.0)" font-size="8" stroke="#ff0000" stroke-width="0.4">↓</text><text transform="translate(13.45,10.9) scale(0.895,1.82)" font-size="10">&gt;</text></g>
<g clip-path="url(#cd)">
<g transform="translate(418.7,141.1) rotate(-28)" fill="#18a018"><text x="-1.85" y="8.4" font-size="11" stroke="#18a018" stroke-width="0.25">|</text><text transform="translate(2.96,11.9) scale(0.7,2.0)" font-size="8" stroke="#18a018" stroke-width="0.4">↓</text><text transform="translate(8.46,11.9) scale(0.7,2.0)" font-size="8" stroke="#18a018" stroke-width="0.4">↓</text><text transform="translate(13.45,10.9) scale(0.895,1.82)" font-size="10">&gt;</text></g>
</g>
<line x1="466.3" y1="96.6" x2="466.3" y2="116" stroke="#000" stroke-width="0.7" marker-start="url(#ah)" marker-end="url(#ah)"/>
<line x1="474.1" y1="89.9" x2="474.1" y2="114" stroke="#000" stroke-width="0.7" marker-start="url(#ah)" marker-end="url(#ah)"/>
<text x="440.4" y="114" font-size="9.6" fill="#111"><tspan class="i">f</tspan><tspan font-size="7.1" dy="2.9">ESR1</tspan></text>
<text x="478.0" y="101.4" font-size="9.6" fill="#111"><tspan class="i">f</tspan><tspan font-size="7.1" dy="2.9">ESR2</tspan></text>
</g>
<g id="pbot">
<rect x="18.5" y="186.4" width="112.60" height="68.80" fill="none" stroke="#5a5a5a" stroke-width="0.8" stroke-dasharray="2.9,1.4"/>
<line x1="56.5" y1="186.4" x2="56.5" y2="255.2" stroke="#5a5a5a" stroke-width="0.8" stroke-dasharray="2.9,1.4"/>
<line x1="93.5" y1="186.4" x2="93.5" y2="255.2" stroke="#5a5a5a" stroke-width="0.8" stroke-dasharray="2.9,1.4"/>
<text x="-1.3" y="195.4" font-size="11.5" fill="#111">(e)</text>
<circle cx="37.50" cy="202.5" r="13.2" fill="#c8c8c8" stroke="#111" stroke-width="1.25"/>
<circle cx="37.50" cy="239.9" r="13.2" fill="#c8c8c8" stroke="#111" stroke-width="1.25"/>
<circle cx="75.00" cy="202.5" r="13.2" fill="#c8c8c8" stroke="#111" stroke-width="1.25"/>
<circle cx="75.00" cy="239.9" r="13.2" fill="#c8c8c8" stroke="#111" stroke-width="1.25"/>
<circle cx="113.10" cy="202.5" r="13.2" fill="#c8c8c8" stroke="#111" stroke-width="1.25"/>
<circle cx="113.10" cy="239.9" r="13.2" fill="#c8c8c8" stroke="#111" stroke-width="1.25"/>
<line x1="69.60" y1="194.60" x2="69.60" y2="204.98" stroke="#000" stroke-width="1.35"/>
<polygon points="69.60,211.10 67.30,203.90 69.60,204.98 71.90,203.90" fill="#000"/>
<line x1="80.50" y1="211.50" x2="80.50" y2="201.42" stroke="#000" stroke-width="1.35"/>
<polygon points="80.50,195.30 82.80,202.50 80.50,201.42 78.20,202.50" fill="#000"/>
<line x1="32.10" y1="232.00" x2="32.10" y2="242.38" stroke="#000" stroke-width="1.35"/>
<polygon points="32.10,248.50 29.80,241.30 32.10,242.38 34.40,241.30" fill="#000"/>
<line x1="43.00" y1="248.90" x2="43.00" y2="238.82" stroke="#000" stroke-width="1.35"/>
<polygon points="43.00,232.70 45.30,239.90 43.00,238.82 40.70,239.90" fill="#000"/>
<line x1="107.70" y1="232.00" x2="107.70" y2="242.38" stroke="#000" stroke-width="1.35"/>
<polygon points="107.70,248.50 105.40,241.30 107.70,242.38 110.00,241.30" fill="#000"/>
<line x1="118.60" y1="248.90" x2="118.60" y2="238.82" stroke="#000" stroke-width="1.35"/>
<polygon points="118.60,232.70 120.90,239.90 118.60,238.82 116.30,239.90" fill="#000"/>
<rect x="157.3" y="186.4" width="112.40" height="68.80" fill="none" stroke="#5a5a5a" stroke-width="0.8" stroke-dasharray="2.9,1.4"/>
<line x1="194.3" y1="186.4" x2="194.3" y2="255.2" stroke="#5a5a5a" stroke-width="0.8" stroke-dasharray="2.9,1.4"/>
<line x1="231.7" y1="186.4" x2="231.7" y2="255.2" stroke="#5a5a5a" stroke-width="0.8" stroke-dasharray="2.9,1.4"/>
<text x="141.8" y="197.1" font-size="11.5" fill="#111">(f)</text>
<circle cx="175.40" cy="202.5" r="13.2" fill="#c8c8c8" stroke="#111" stroke-width="1.25"/>
<circle cx="175.40" cy="239.9" r="13.2" fill="#c8c8c8" stroke="#111" stroke-width="1.25"/>
<circle cx="213.20" cy="202.5" r="13.2" fill="#c8c8c8" stroke="#111" stroke-width="1.25"/>
<circle cx="213.20" cy="239.9" r="13.2" fill="#c8c8c8" stroke="#111" stroke-width="1.25"/>
<circle cx="250.80" cy="202.5" r="13.2" fill="#c8c8c8" stroke="#111" stroke-width="1.25"/>
<circle cx="250.80" cy="239.9" r="13.2" fill="#c8c8c8" stroke="#111" stroke-width="1.25"/>
<line x1="180.80" y1="210.50" x2="180.80" y2="200.02" stroke="#000" stroke-width="1.35"/>
<polygon points="180.80,193.90 183.10,201.10 180.80,200.02 178.50,201.10" fill="#000"/>
<line x1="170.00" y1="232.20" x2="170.00" y2="242.48" stroke="#000" stroke-width="1.35"/>
<polygon points="170.00,248.60 167.70,241.40 170.00,242.48 172.30,241.40" fill="#000"/>
<line x1="218.60" y1="210.50" x2="218.60" y2="200.02" stroke="#000" stroke-width="1.35"/>
<polygon points="218.60,193.90 220.90,201.10 218.60,200.02 216.30,201.10" fill="#000"/>
<line x1="207.80" y1="232.20" x2="207.80" y2="242.48" stroke="#000" stroke-width="1.35"/>
<polygon points="207.80,248.60 205.50,241.40 207.80,242.48 210.10,241.40" fill="#000"/>
<line x1="256.20" y1="210.50" x2="256.20" y2="200.02" stroke="#000" stroke-width="1.35"/>
<polygon points="256.20,193.90 258.50,201.10 256.20,200.02 253.90,201.10" fill="#000"/>
<line x1="245.40" y1="232.20" x2="245.40" y2="242.48" stroke="#000" stroke-width="1.35"/>
<polygon points="245.40,248.60 243.10,241.40 245.40,242.48 247.70,241.40" fill="#000"/>
<path d="M162.00,236.70 Q147.80,222.20 159.41,208.32" fill="none" stroke="#1fbf1f" stroke-width="1.4"/>
<polygon points="162.10,205.10 159.53,212.07 155.69,208.87" fill="#1fbf1f"/>
<path d="M237.40,236.70 Q223.20,222.20 234.81,208.32" fill="none" stroke="#1fbf1f" stroke-width="1.4"/>
<polygon points="237.50,205.10 234.93,212.07 231.09,208.87" fill="#1fbf1f"/>
<path d="M200.30,206.80 Q184.60,214.80 198.28,233.04" fill="none" stroke="#1fbf1f" stroke-width="1.4"/>
<polygon points="200.80,236.40 194.60,232.30 198.60,229.30" fill="#1fbf1f"/>
<rect x="295.3" y="186.4" width="112.60" height="68.80" fill="none" stroke="#5a5a5a" stroke-width="0.8" stroke-dasharray="2.9,1.4"/>
<line x1="332.7" y1="186.4" x2="332.7" y2="255.2" stroke="#5a5a5a" stroke-width="0.8" stroke-dasharray="2.9,1.4"/>
<line x1="370.3" y1="186.4" x2="370.3" y2="255.2" stroke="#5a5a5a" stroke-width="0.8" stroke-dasharray="2.9,1.4"/>
<text x="278.0" y="197.3" font-size="11.5" fill="#111">(g)</text>
<circle cx="313.90" cy="202.5" r="13.2" fill="#c8c8c8" stroke="#111" stroke-width="1.25"/>
<circle cx="313.90" cy="239.9" r="13.2" fill="#c8c8c8" stroke="#111" stroke-width="1.25"/>
<circle cx="351.90" cy="202.5" r="13.2" fill="#c8c8c8" stroke="#111" stroke-width="1.25"/>
<circle cx="351.90" cy="239.9" r="13.2" fill="#c8c8c8" stroke="#111" stroke-width="1.25"/>
<circle cx="388.80" cy="202.5" r="13.2" fill="#c8c8c8" stroke="#111" stroke-width="1.25"/>
<circle cx="388.80" cy="239.9" r="13.2" fill="#c8c8c8" stroke="#111" stroke-width="1.25"/>
<line x1="319.30" y1="210.50" x2="319.30" y2="200.02" stroke="#000" stroke-width="1.35"/>
<polygon points="319.30,193.90 321.60,201.10 319.30,200.02 317.00,201.10" fill="#000"/>
<line x1="357.30" y1="210.50" x2="357.30" y2="200.02" stroke="#000" stroke-width="1.35"/>
<polygon points="357.30,193.90 359.60,201.10 357.30,200.02 355.00,201.10" fill="#000"/>
<line x1="394.20" y1="210.50" x2="394.20" y2="200.02" stroke="#000" stroke-width="1.35"/>
<polygon points="394.20,193.90 396.50,201.10 394.20,200.02 391.90,201.10" fill="#000"/>
<line x1="307.80" y1="234.10" x2="316.00" y2="241.65" stroke="#000" stroke-width="1.35"/>
<polygon points="320.50,245.80 313.65,242.61 316.00,241.65 316.76,239.23" fill="#000"/>
<path d="M323.48,245.89 A11.3,11.3 0 1 1 320.86,231.00" fill="none" stroke="#5a48e0" stroke-width="0.7"/>
<polygon points="322.56,232.50 319.66,229.80 319.26,232.30" fill="#4a38e0"/>
<line x1="345.80" y1="245.10" x2="353.98" y2="237.63" stroke="#000" stroke-width="1.35"/>
<polygon points="358.50,233.50 354.73,240.05 353.98,237.63 351.63,236.66" fill="#000"/>
<path d="M361.48,245.89 A11.3,11.3 0 1 1 358.86,231.00" fill="none" stroke="#5a48e0" stroke-width="0.7"/>
<polygon points="360.56,232.50 357.66,229.80 357.26,232.30" fill="#4a38e0"/>
<line x1="380.60" y1="238.30" x2="391.30" y2="240.48" stroke="#000" stroke-width="1.35"/>
<polygon points="397.30,241.70 389.79,242.52 391.30,240.48 390.70,238.01" fill="#000"/>
<path d="M398.38,245.89 A11.3,11.3 0 1 1 395.76,231.00" fill="none" stroke="#5a48e0" stroke-width="0.7"/>
<polygon points="397.46,232.50 394.56,229.80 394.16,232.30" fill="#4a38e0"/>
<ellipse cx="470.9" cy="240.6" rx="39.9" ry="19.2" fill="#f9cfcb"/>
<rect x="432.9" y="186.4" width="112.40" height="68.80" fill="none" stroke="#5a5a5a" stroke-width="0.8" stroke-dasharray="2.9,1.4"/>
<line x1="470.3" y1="186.4" x2="470.3" y2="255.2" stroke="#5a5a5a" stroke-width="0.8" stroke-dasharray="2.9,1.4"/>
<line x1="507.7" y1="186.4" x2="507.7" y2="255.2" stroke="#5a5a5a" stroke-width="0.8" stroke-dasharray="2.9,1.4"/>
<text x="415.3" y="197.2" font-size="11.5" fill="#111">(h)</text>
<circle cx="452.30" cy="202.5" r="13.2" fill="#c8c8c8" stroke="#111" stroke-width="1.25"/>
<circle cx="452.30" cy="239.9" r="13.2" fill="#c8c8c8" stroke="#111" stroke-width="1.25"/>
<circle cx="489.70" cy="202.5" r="13.2" fill="#c8c8c8" stroke="#111" stroke-width="1.25"/>
<circle cx="489.70" cy="239.9" r="13.2" fill="#c8c8c8" stroke="#111" stroke-width="1.25"/>
<circle cx="526.80" cy="202.5" r="13.2" fill="#c8c8c8" stroke="#111" stroke-width="1.25"/>
<circle cx="526.80" cy="239.9" r="13.2" fill="#c8c8c8" stroke="#111" stroke-width="1.25"/>
<line x1="457.70" y1="210.50" x2="457.70" y2="200.02" stroke="#000" stroke-width="1.35"/>
<polygon points="457.70,193.90 460.00,201.10 457.70,200.02 455.40,201.10" fill="#000"/>
<line x1="495.10" y1="210.50" x2="495.10" y2="200.02" stroke="#000" stroke-width="1.35"/>
<polygon points="495.10,193.90 497.40,201.10 495.10,200.02 492.80,201.10" fill="#000"/>
<line x1="532.20" y1="210.50" x2="532.20" y2="200.02" stroke="#000" stroke-width="1.35"/>
<polygon points="532.20,193.90 534.50,201.10 532.20,200.02 529.90,201.10" fill="#000"/>
<line x1="446.20" y1="234.10" x2="454.40" y2="241.65" stroke="#000" stroke-width="1.35"/>
<polygon points="458.90,245.80 452.05,242.61 454.40,241.65 455.16,239.23" fill="#000"/>
<line x1="483.60" y1="245.10" x2="491.78" y2="237.63" stroke="#000" stroke-width="1.35"/>
<polygon points="496.30,233.50 492.53,240.05 491.78,237.63 489.43,236.66" fill="#000"/>
<line x1="518.60" y1="238.30" x2="529.30" y2="240.48" stroke="#000" stroke-width="1.35"/>
<polygon points="535.30,241.70 527.79,242.52 529.30,240.48 528.70,238.01" fill="#000"/>
<rect x="572.4" y="186.4" width="112.20" height="68.80" fill="none" stroke="#5a5a5a" stroke-width="0.8" stroke-dasharray="2.9,1.4"/>
<line x1="609.7" y1="186.4" x2="609.7" y2="255.2" stroke="#5a5a5a" stroke-width="0.8" stroke-dasharray="2.9,1.4"/>
<line x1="647.0" y1="186.4" x2="647.0" y2="255.2" stroke="#5a5a5a" stroke-width="0.8" stroke-dasharray="2.9,1.4"/>
<text x="556.7" y="197.5" font-size="11.5" fill="#111">(i)</text>
<circle cx="592.50" cy="202.5" r="13.2" fill="#c8c8c8" stroke="#111" stroke-width="1.25"/>
<circle cx="592.50" cy="239.9" r="13.2" fill="#c8c8c8" stroke="#111" stroke-width="1.25"/>
<circle cx="630.40" cy="202.5" r="13.2" fill="#c8c8c8" stroke="#111" stroke-width="1.25"/>
<circle cx="630.40" cy="239.9" r="13.2" fill="#c8c8c8" stroke="#111" stroke-width="1.25"/>
<circle cx="666.90" cy="202.5" r="13.2" fill="#c8c8c8" stroke="#111" stroke-width="1.25"/>
<circle cx="666.90" cy="239.9" r="13.2" fill="#c8c8c8" stroke="#111" stroke-width="1.25"/>
<line x1="636.20" y1="210.50" x2="636.20" y2="200.02" stroke="#000" stroke-width="1.35"/>
<polygon points="636.20,193.90 638.50,201.10 636.20,200.02 633.90,201.10" fill="#000"/>
<line x1="587.10" y1="232.00" x2="587.10" y2="242.38" stroke="#000" stroke-width="1.35"/>
<polygon points="587.10,248.50 584.80,241.30 587.10,242.38 589.40,241.30" fill="#000"/>
<line x1="598.00" y1="248.90" x2="598.00" y2="238.82" stroke="#000" stroke-width="1.35"/>
<polygon points="598.00,232.70 600.30,239.90 598.00,238.82 595.70,239.90" fill="#000"/>
<line x1="661.50" y1="232.00" x2="661.50" y2="242.38" stroke="#000" stroke-width="1.35"/>
<polygon points="661.50,248.50 659.20,241.30 661.50,242.38 663.80,241.30" fill="#000"/>
<line x1="672.40" y1="248.90" x2="672.40" y2="238.82" stroke="#000" stroke-width="1.35"/>
<polygon points="672.40,232.70 674.70,239.90 672.40,238.82 670.10,239.90" fill="#000"/>
<line x1="625.60" y1="248.70" x2="625.60" y2="238.42" stroke="#000" stroke-width="1.35"/>
<polygon points="625.60,232.30 627.90,239.50 625.60,238.42 623.30,239.50" fill="#000"/>
<path d="M579.10,201.90 Q565.90,215.40 577.38,230.74" fill="none" stroke="#1fbf1f" stroke-width="1.3"/>
<polygon points="579.90,234.10 573.70,229.99 577.71,227.00" fill="#1fbf1f"/>
<path d="M653.50,201.90 Q640.30,215.40 651.78,230.74" fill="none" stroke="#1fbf1f" stroke-width="1.3"/>
<polygon points="654.30,234.10 648.10,229.99 652.11,227.00" fill="#1fbf1f"/>
<path d="M616.90,204.50 Q604.80,217.00 615.73,232.94" fill="none" stroke="#c8202d" stroke-width="1.3"/>
<polygon points="618.10,236.40 612.08,232.04 616.20,229.21" fill="#c8202d"/>
</g>
</svg></body></html>
